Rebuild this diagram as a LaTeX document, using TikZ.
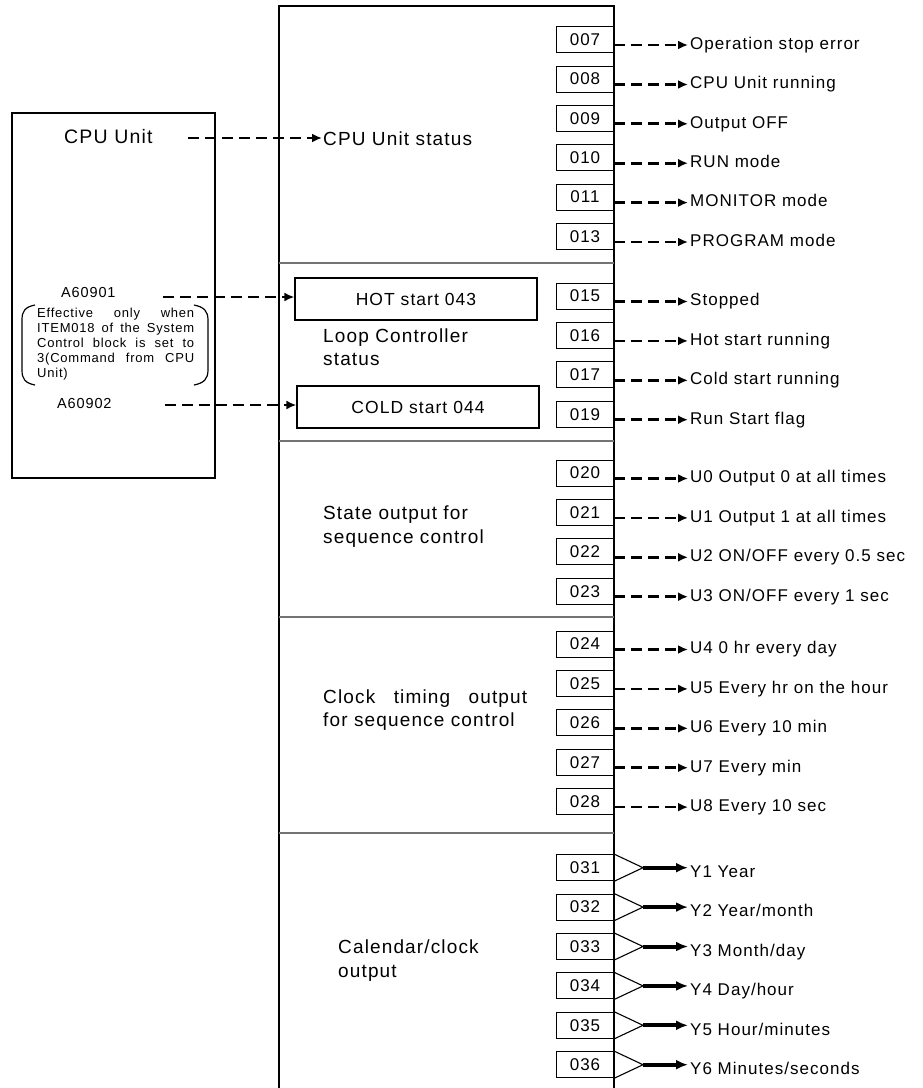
\documentclass[tikz,border=0pt]{standalone}
\usepackage{fontspec}
\setmainfont[LetterSpace=6]{Liberation Sans}
\usetikzlibrary{arrows.meta,positioning}
\tikzstyle{numbox}=[draw,line width=0.9pt,minimum width=58pt,minimum height=26pt,inner sep=0pt,font=\fontsize{17}{19}\selectfont]
\tikzstyle{outlabel}=[anchor=west,inner sep=0pt,text height=12.3pt,text depth=3.6pt,font=\fontsize{17}{19}\selectfont]
\tikzstyle{seclabel}=[anchor=base west,inner sep=0pt,align=left,font=\fontsize{19}{23.5}\selectfont]
\tikzstyle{startbox}=[draw,line width=1.2pt,minimum width=242pt,minimum height=42pt,inner sep=0pt,font=\fontsize{17.5}{19}\selectfont]
\tikzstyle{dasharrow}=[draw,line width=2.7pt,dash pattern=on 11pt off 6pt,-{Latex[length=10pt,width=9pt]}]
\tikzstyle{bigarrow}=[draw,line width=4pt,-{Latex[length=12pt,width=10pt]}]
\tikzstyle{divider}=[draw,line width=1.1pt,black!55]

\begin{document}
\begin{tikzpicture}[x=1pt,y=-1pt]
    \useasboundingbox (0,0) rectangle (923,1088);

    % The CPU Unit block on the left
    \node[draw,line width=1.3pt,minimum width=203pt,minimum height=365pt,inner sep=0pt] (cpu) at (113.5,295.5) {};
    \node[seclabel,font=\fontsize{19.5}{23.5}\selectfont] (cpuname) at (64,143) {CPU Unit};
    \node[anchor=base west,inner sep=0pt,font=\fontsize{14.5}{16}\selectfont] (a1) at (61,297) {A60901};
    \node[anchor=base west,inner sep=0pt,font=\fontsize{14.5}{16}\selectfont] (a2) at (57,408) {A60902};
    % (base of a multi-line node is its last line)
    \node[anchor=base west,inner sep=0pt,align=left,font=\fontsize{13}{15}\selectfont] (note) at (37,377)
        {\makebox[157pt][s]{Effective only when}\\\makebox[157pt][s]{ITEM018 of the System}\\
         \makebox[157pt][s]{Control block is set to}\\\makebox[157pt][s]{3(Command from CPU}\\Unit)};
    \draw[line width=1.2pt] (35,305) .. controls (25,307) and (22,311) .. (22,320) -- (22,370) .. controls (22,379) and (25,383) .. (35,385);
    \draw[line width=1.2pt] (194,305) .. controls (204,307) and (208,311) .. (208,320) -- (208,370) .. controls (208,379) and (204,383) .. (194,385);

    % The Loop Controller block
    \draw[line width=1.8pt] (279,1088) -- (279,6) -- (614,6) -- (614,1088);
    \foreach \y in {263,441,617,833}
        \path[divider] (279,\y) -- (614,\y);

    \node[seclabel] (cpustat) at (323,145) {CPU Unit status};
    \node[seclabel] (loopstat) at (323,365.5) {Loop Controller\\status};
    \node[seclabel] (statout) at (323,543) {State output for\\sequence control};
    \node[seclabel] (clockout) at (323,726.5) {\makebox[204pt][s]{Clock timing output}\\for sequence control};
    \node[seclabel] (calout) at (338,977) {Calendar/clock\\output};

    \node[startbox] (hot) at (416,299) {HOT start 043};
    \node[startbox] (cold) at (418,407) {COLD start 044};

    % Inputs from the CPU Unit
    \coordinate (s0) at (188,138);
    \coordinate (s1) at (163,297);
    \coordinate (s2) at (165,405);
    \path[dasharrow,shorten >=1pt] (s0) -- (s0 -| cpustat.west);
    \path[dasharrow] (s1) -- (s1 -| hot.west);
    \path[dasharrow] (s2) -- (s2 -| cold.west);

    % Status and timing outputs
    \foreach \y/\num/\txt in {39.5/007/{Operation stop error},79/008/{CPU Unit running},118.3/009/{Output OFF},
        157.7/010/{RUN mode},197.1/011/{MONITOR mode},236.5/013/{PROGRAM mode},
        296/015/{Stopped},335.4/016/{Hot start running},374.8/017/{Cold start running},414.2/019/{Run Start flag},
        473/020/{U0 Output 0 at all times},512.4/021/{U1 Output 1 at all times},551.8/022/{U2 ON/OFF every 0.5 sec},591.2/023/{U3 ON/OFF every 1 sec},
        644/024/{U4 0 hr every day},683.4/025/{U5 Every hr on the hour},722.8/026/{U6 Every 10 min},762.2/027/{U7 Every min},801.6/028/{U8 Every 10 sec}}
    {
        \node[numbox] (n\num) at (585,\y) {\num};
        \node[outlabel] (l\num) at (690,\y+5.5) {\txt};
        \path[dasharrow,shorten >=2pt] (n\num.east |- l\num.west) -- (l\num.west);
    }

    % Calendar outputs
    \foreach \y/\num/\txt in {867.7/031/{Y1 Year},907.1/032/{Y2 Year/month},946.5/033/{Y3 Month/day},
        985.9/034/{Y4 Day/hour},1025.3/035/{Y5 Hour/minutes},1064.7/036/{Y6 Minutes/seconds}}
    {
        \node[numbox] (n\num) at (585,\y) {\num};
        \coordinate (t\num) at (643,\y);
        \node[outlabel] (l\num) at (690,\y+5.5) {\txt};
        \draw[line width=1.1pt] (n\num.north east) -- (t\num) -- (n\num.south east);
        \path[bigarrow,shorten >=2pt] (t\num) -- (l\num.west |- t\num);
    }
\end{tikzpicture}
\end{document}
